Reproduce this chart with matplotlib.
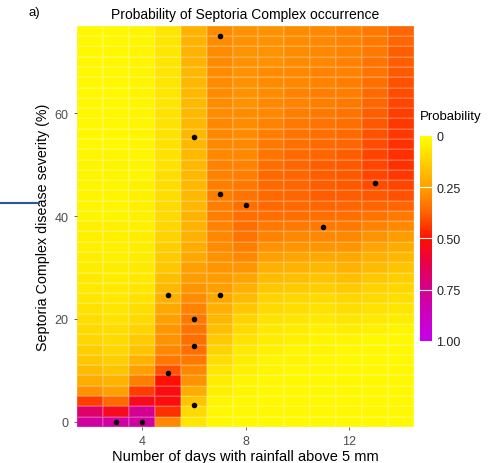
import numpy as np
import matplotlib
matplotlib.use('Agg')
import matplotlib.pyplot as plt
from matplotlib.colors import LinearSegmentedColormap
from matplotlib.lines import Line2D

plt.rcParams['font.family'] = ['Liberation Sans', 'DejaVu Sans']

# days with rainfall above 5 mm (columns) and severity bins (rows)
days = [2, 3, 4, 5, 6, 7, 8, 9, 10, 11, 12, 13, 14]
severity = [0, 2, 4, 6, 8, 10, 12, 14, 16, 18, 20, 22, 24, 26, 28, 30, 32, 34, 36, 38,
            40, 42, 44, 46, 48, 50, 52, 54, 56, 58, 60, 62, 64, 66, 68, 70, 72, 74, 76]

# predicted probability per column, bottom (0 %) to top (76 %)
prob_d2 = [.80, .68, .43, .28, .22, .18, .15, .13, .11, .10,
           .09, .08, .07, .06, .06, .05, .05, .04, .04, .04,
           .03, .03, .03, .03, .03, .03, .03, .02, .02, .02,
           .02, .02, .02, .02, .02, .02, .02, .02, .02]
prob_d3 = [.80, .55, .36, .25, .20, .16, .13, .11, .10, .09,
           .08, .07, .06, .06, .05, .05, .04, .04, .04, .04,
           .03, .03, .03, .03, .03, .03, .03, .02, .02, .02,
           .02, .02, .02, .02, .02, .02, .02, .02, .02]
prob_d4 = [.80, .76, .55, .43, .32, .25, .20, .16, .14, .12,
           .10, .09, .08, .07, .06, .06, .05, .05, .05, .04,
           .04, .04, .04, .04, .03, .03, .03, .03, .03, .03,
           .03, .03, .03, .03, .03, .03, .03, .03, .03]
prob_d5 = [.30, .45, .52, .53, .50, .40, .33, .30, .28, .27,
           .25, .23, .21, .19, .17, .15, .14, .13, .12, .11,
           .10, .10, .09, .09, .09, .08, .08, .08, .08, .08,
           .08, .07, .07, .07, .07, .07, .07, .07, .07]
prob_d6 = [.07, .10, .16, .22, .28, .30, .33, .35, .35, .34,
           .33, .31, .29, .27, .26, .25, .23, .22, .21, .20,
           .20, .19, .19, .19, .19, .19, .19, .19, .19, .19,
           .19, .19, .19, .19, .19, .20, .20, .20, .20]
prob_d7 = [.02, .02, .03, .04, .05, .07, .09, .12, .14, .17,
           .19, .21, .23, .25, .26, .27, .28, .29, .30, .31,
           .32, .32, .32, .32, .31, .31, .30, .30, .30, .30,
           .29, .29, .29, .29, .29, .29, .29, .29, .29]
prob_d8 = [.02, .02, .02, .03, .03, .04, .05, .06, .08, .10,
           .12, .15, .18, .21, .24, .27, .30, .32, .34, .35,
           .35, .35, .34, .33, .32, .31, .30, .30, .29, .29,
           .29, .28, .28, .28, .28, .28, .28, .28, .28]
prob_d9 = [.02, .02, .02, .02, .02, .03, .03, .04, .05, .06,
           .08, .10, .12, .15, .18, .21, .25, .28, .31, .33,
           .35, .36, .36, .36, .36, .35, .34, .33, .32, .31,
           .30, .30, .29, .29, .29, .28, .28, .28, .28]
prob_d10 = [.02, .02, .02, .02, .02, .02, .03, .03, .04, .05,
            .07, .09, .11, .14, .17, .20, .24, .27, .30, .33,
            .35, .36, .37, .37, .37, .37, .36, .35, .34, .33,
            .32, .31, .31, .30, .30, .29, .29, .29, .29]
prob_d11 = [.02, .02, .02, .02, .02, .02, .02, .03, .03, .04,
            .06, .08, .10, .13, .16, .19, .23, .27, .30, .33,
            .35, .37, .38, .38, .38, .38, .37, .36, .35, .34,
            .33, .32, .32, .31, .31, .30, .30, .30, .30]
prob_d12 = [.02, .02, .02, .02, .02, .02, .02, .02, .03, .05,
            .07, .09, .11, .14, .17, .20, .23, .27, .30, .33,
            .35, .37, .38, .39, .39, .39, .38, .37, .36, .35,
            .34, .33, .32, .32, .31, .31, .31, .31, .31]
prob_d13 = [.02, .02, .02, .02, .02, .02, .02, .02, .02, .04,
            .06, .08, .10, .12, .15, .18, .21, .24, .28, .31,
            .34, .37, .39, .41, .42, .42, .42, .41, .40, .39,
            .38, .37, .36, .35, .34, .34, .33, .33, .33]
prob_d14 = [.02, .02, .02, .02, .02, .02, .02, .02, .02, .03,
            .05, .07, .09, .11, .13, .16, .19, .22, .26, .30,
            .33, .37, .40, .42, .44, .45, .45, .45, .44, .44,
            .43, .42, .41, .40, .39, .38, .38, .37, .37]

# observed field records
obs_days = [3, 4, 5, 6, 6, 6, 5, 7, 6, 7, 8, 11, 13, 7]
obs_severity = [0, 0, 9.5, 3.2, 14.7, 20, 24.7, 24.7, 55.4, 44.2, 42.1, 37.8, 46.5, 75]

prob = np.column_stack([prob_d2, prob_d3, prob_d4, prob_d5, prob_d6, prob_d7, prob_d8,
                        prob_d9, prob_d10, prob_d11, prob_d12, prob_d13, prob_d14])

cmap = LinearSegmentedColormap.from_list(
    'sept', [(0, '#FFFF00'), (0.125, '#FFD000'), (0.25, '#FFA000'),
             (0.375, '#FF6200'), (0.5, '#FF1000'), (0.625, '#E8004A'),
             (0.75, '#D4008E'), (0.875, '#CC00C0'), (1.0, '#C400EE')])

grey = '#4D4D4D'
fig = plt.figure(figsize=(4.93, 4.64), dpi=100)
ax = fig.add_axes([0.156, 0.078, 0.684, 0.864])

xe = np.concatenate([np.array(days) - 0.5, [days[-1] + 0.5]])
ye = np.concatenate([np.array(severity) - 1.0, [severity[-1] + 1.0]])
mesh = ax.pcolormesh(xe, ye, prob, cmap=cmap, vmin=0, vmax=1,
                     edgecolors=(1, 1, 1, 0.15), linewidth=0.3)
ax.scatter(obs_days, obs_severity, s=9, color='black', zorder=3)

ax.set_xlim(xe[0], xe[-1])
ax.set_ylim(ye[0], ye[-1])
ax.set_xticks([4, 8, 12])
ax.set_yticks([0, 20, 40, 60])
ax.tick_params(colors=grey, labelsize=9, length=2.5, width=0.6, labelcolor=grey)
for s in ax.spines.values():
    s.set_visible(False)
ax.set_xlabel('Number of days with rainfall above 5 mm', fontsize=10.5, labelpad=1)
ax.set_ylabel('Septoria Complex disease severity (%)', fontsize=10.3, labelpad=3)
ax.set_title('Probability of Septoria Complex occurrence', fontsize=10, pad=6)
fig.text(0.057, 0.971, 'a)', fontsize=9.5, ha='left', va='center')

cax = fig.add_axes([0.852, 0.263, 0.0243, 0.442])
cb = fig.colorbar(mesh, cax=cax)
cb.outline.set_visible(False)
cax.invert_yaxis()
cb.set_ticks([0, 0.25, 0.5, 0.75, 1.0])
cb.set_ticklabels(['0', '0.25', '0.50', '0.75', '1.00'])
cax.tick_params(length=0, labelsize=9, colors='#222222', pad=3)
for v in [0.25, 0.5, 0.75]:
    cax.axhline(v, color='white', lw=0.8)
fig.text(0.852, 0.748, 'Probability', fontsize=9.5, ha='left', va='center')

# stray rule from the neighbouring panel
fig.add_artist(Line2D([0.0, 0.08], [0.56, 0.56], color='#2F5597', lw=1.5,
                      transform=fig.transFigure))

fig.savefig('out.png', dpi=100)
